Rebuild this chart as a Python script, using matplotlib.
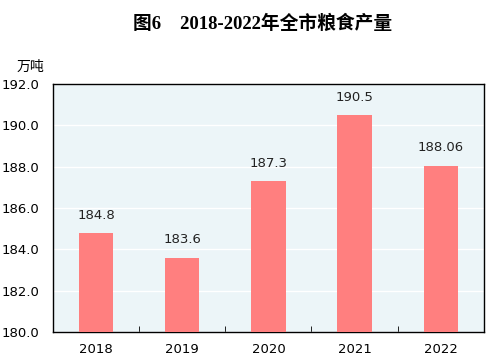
import matplotlib
matplotlib.use('Agg')
import matplotlib.pyplot as plt
import numpy as np

plt.rcParams['font.family'] = ['DejaVu Sans', 'Noto Sans CJK SC']

years = ['2018', '2019', '2020', '2021', '2022']
output = [184.8, 183.6, 187.3, 190.5, 188.06]
labels = ['184.8', '183.6', '187.3', '190.5', '188.06']

fig = plt.figure(figsize=(5.04, 3.61), dpi=100)
ax = fig.add_axes([0.105, 0.080, 0.855, 0.687])
ax.set_facecolor('#ECF5F8')

x = np.arange(len(years))
ax.bar(x, output, width=0.4, color='#FF7F7F', zorder=3)
for xi, v, t in zip(x, output, labels):
    ax.text(xi, v + 0.55, t, ha='center', va='bottom', fontsize=9.5, color='#222222')

ax.set_ylim(180, 192)
ax.set_yticks(np.arange(180, 192.1, 2))
ax.set_yticklabels(['%.1f' % v for v in np.arange(180, 192.1, 2)], fontsize=9.5)
ax.set_xlim(-0.5, 4.5)
ax.set_xticks(x)
ax.set_xticklabels(years, fontsize=9.5)
ax.tick_params(axis='x', length=0, pad=8)
ax.tick_params(axis='y', length=0, pad=10)
ax.set_xticks(np.arange(0.5, 4.5, 1), minor=True)
ax.tick_params(axis='x', which='minor', direction='in', length=4, color='black')
ax.grid(axis='y', color='white', linewidth=1, zorder=1)
for s in ax.spines.values():
    s.set_color('black')
    s.set_linewidth(1)

# title: serif digits, CJK fallback
fig.text(0.521, 0.935, '图6    2018-2022年全市粮食产量', ha='center', va='center',
         fontsize=13.5, fontweight='bold', family=['Liberation Serif', 'Noto Sans CJK SC'])
fig.text(0.06, 0.815, '万吨', ha='center', va='center', fontsize=10,
         family=['Noto Sans CJK SC', 'DejaVu Sans'])

fig.savefig('out.png', dpi=100)
